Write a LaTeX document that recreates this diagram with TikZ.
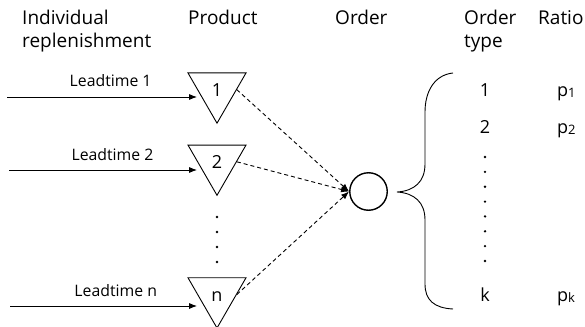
\documentclass[tikz,border=0pt]{standalone}
\usepackage{fontspec}
\setmainfont{Open Sans}
\usetikzlibrary{arrows.meta,shapes.geometric}
\begin{document}
\begin{tikzpicture}[x=1pt,y=-1pt,
  hdr/.style={font=\fontsize{19}{22}\selectfont, anchor=base west, inner sep=0},
  col/.style={font=\fontsize{18}{22}\selectfont, anchor=base, inner sep=0},
  ratio/.style={font=\fontsize{18}{22}\selectfont, anchor=base west, inner sep=0},
  sub/.style={},
  tri/.style={draw, line width=0.9pt, regular polygon, regular polygon sides=3,
    shape border rotate=180, minimum size=67pt, inner sep=0,
    text height=13pt, text depth=0pt, font=\fontsize{18}{22}\selectfont},
  lt/.style={font=\fontsize{15.8}{18}\selectfont, anchor=base, inner sep=0, yshift=10pt},
  arr/.style={line width=0.9pt, -{Latex[length=8pt,width=6pt]}},
  darr/.style={line width=0.9pt, dash pattern=on 4pt off 3pt, -{Latex[length=8pt,width=6pt]}},
  dotm/.style={fill=black}
]
\useasboundingbox (0,0) rectangle (585,326);

% headers
\node[hdr] (h1a) at (22,25) {Individual};
\node[hdr] (h1b) at (22,48) {replenishment};
\node[hdr] (h2) at (188,25) {Product};
\node[hdr] (h3) at (335,25) {Order};
\node[hdr] (h4a) at (464,25) {Order};
\node[hdr] (h4b) at (464,48) {type};
\node[hdr] (h5) at (538,25) {Ratio};

% products
\node[tri] (t1) at (217,89.7) {1};
\node[tri] (t2) at (217,161.8) {2};
\node[tri] (tn) at (217,294.5) {n};

% replenishment arrows
\coordinate (s1) at (7,97);
\coordinate (s2) at (9,170);
\coordinate (sn) at (10,306);
\draw[arr] (s1) -- (s1 -| t1.west) node[lt, pos=.545] {Leadtime 1};
\draw[arr] (s2) -- (s2 -| t2.west) node[lt, pos=.55] {Leadtime 2};
\draw[arr] (sn) -- (sn -| tn.west) node[lt, pos=.565] {Leadtime n};

% vertical dots between products
\foreach \yy in {217,232,247,262} \fill[dotm] (217,\yy) circle (1.3pt);

% order
\node[circle, draw, line width=1.4pt, minimum size=37.5pt, inner sep=0] (c) at (368.5,191.5) {};
\draw[darr] (t1.east) -- (c.west);
\draw[darr] (t2.east) -- (c.west);
\draw[darr] (tn.east) -- (c.west);

% brace
\coordinate (btip) at (397,192);
\draw[line width=0.9pt] (453,73) .. controls (434,75) and (425,92) .. (425,112)
  -- (425,164) .. controls (425,182) and (414,191) .. (btip)
  .. controls (414,193) and (425,202) .. (425,220)
  -- (425,284) .. controls (425,300) and (434,308) .. (453,309);

% order types and ratios
\node[col] (o1) at (485,96) {1};
\node[col] (o2) at (485,133) {2};
\node[col] (ok) at (485,301) {k};
\foreach \i in {0,...,7} \fill[dotm] (485,157+\i*14.86) circle (1.3pt);
\node[ratio] (p1) at (557,96) {p{\fontsize{13}{14}\selectfont\raisebox{-1.2pt}{1}}};
\node[ratio] (p2) at (557,133) {p{\fontsize{13}{14}\selectfont\raisebox{-1.2pt}{2}}};
\node[ratio] (pk) at (557,301) {p{\fontsize{13}{14}\selectfont\raisebox{-1.2pt}{k}}};
\end{tikzpicture}
\end{document}
